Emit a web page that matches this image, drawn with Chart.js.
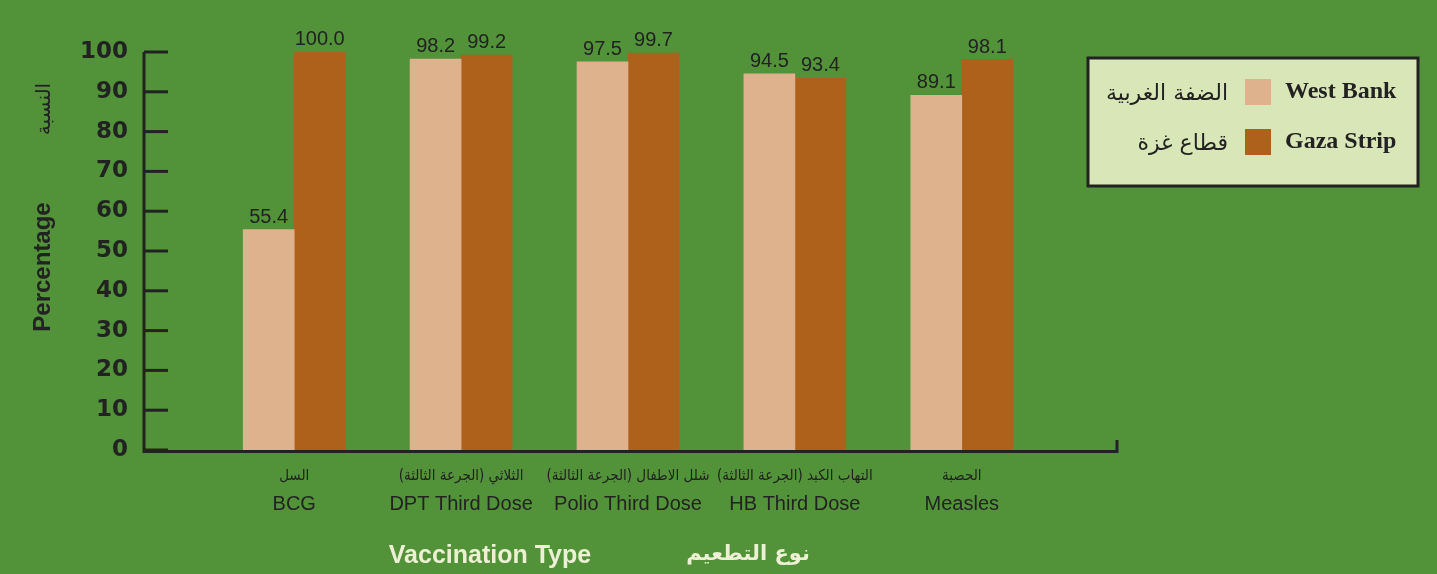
<!DOCTYPE html>
<html>
<head>
<meta charset="utf-8">
<script src="https://cdn.jsdelivr.net/npm/chart.js@4/dist/chart.umd.min.js"></script>
<style>
  html, body { margin: 0; padding: 0; background: #52933a; }
  #wrap { width: 1437px; height: 574px; position: relative; }
</style>
</head>
<body>
<div id="wrap"><canvas id="vacc"></canvas></div>
<script>
const categoriesEn = ['BCG', 'DPT Third Dose', 'Polio Third Dose', 'HB Third Dose', 'Measles'];
const categoriesAr = ['السل', 'الثلاثي (الجرعة الثالثة)', 'شلل الاطفال (الجرعة الثالثة)', 'التهاب الكبد (الجرعة الثالثة)', 'الحصبة'];
const westBank = [55.4, 98.2, 97.5, 94.5, 89.1];
const gazaStrip = [100.0, 99.2, 99.7, 93.4, 98.1];
const yTicks = [0, 10, 20, 30, 40, 50, 60, 70, 80, 90, 100];

const INK = '#222222';
const CREAM = '#eef0d6';

function points(values) {
    return values.map((v, i) => ({ x: i, y: v }));
}

// axes, value labels, category labels, titles and the boxed legend
const decor = {
    id: 'decor',
    afterDatasetsDraw(chart) {
        const ctx = chart.ctx;
        const area = chart.chartArea;
        const xs = chart.scales.x;
        const ys = chart.scales.y;
        ctx.save();

        // axis lines
        ctx.strokeStyle = INK;
        ctx.lineWidth = 3;
        ctx.lineCap = 'butt';
        ctx.beginPath();
        ctx.moveTo(area.left, ys.getPixelForValue(100));
        ctx.lineTo(area.left, area.bottom + 1.5);
        ctx.lineTo(area.right, area.bottom + 1.5);
        ctx.lineTo(area.right, area.bottom - 10);
        ctx.stroke();
        // inward tick marks
        yTicks.forEach(t => {
            const py = ys.getPixelForValue(t);
            ctx.beginPath();
            ctx.moveTo(area.left, py);
            ctx.lineTo(area.left + 24, py);
            ctx.stroke();
        });

        // value labels
        ctx.fillStyle = INK;
        ctx.font = '20px "Liberation Sans", Arial, sans-serif';
        ctx.textAlign = 'center';
        ctx.textBaseline = 'alphabetic';
        chart.data.datasets.forEach((ds, di) => {
            chart.getDatasetMeta(di).data.forEach((bar, i) => {
                ctx.fillText(ds.data[i].y.toFixed(1), bar.x, bar.y - 7);
            });
        });

        // category labels
        categoriesEn.forEach((lab, i) => {
            const px = xs.getPixelForValue(i);
            ctx.save();
            ctx.translate(px, area.bottom + 30);
            ctx.scale(0.9, 1);
            ctx.direction = 'rtl';
            ctx.font = '15px "DejaVu Sans", sans-serif';
            ctx.fillText(categoriesAr[i], 0, 0);
            ctx.restore();
            ctx.direction = 'ltr';
            ctx.font = '20px "Liberation Sans", Arial, sans-serif';
            ctx.fillText(lab, px, area.bottom + 60);
        });

        // x title
        ctx.fillStyle = CREAM;
        ctx.font = 'bold 25px "Liberation Sans", Arial, sans-serif';
        ctx.fillText('Vaccination Type', 490, 563);
        ctx.direction = 'rtl';
        ctx.font = 'bold 21px "DejaVu Sans", sans-serif';
        ctx.fillText('نوع التطعيم', 748, 560);
        ctx.direction = 'ltr';

        // y title
        ctx.fillStyle = INK;
        ctx.save();
        ctx.translate(50, 267);
        ctx.rotate(-Math.PI / 2);
        ctx.font = 'bold 24px "Liberation Sans", Arial, sans-serif';
        ctx.fillText('Percentage', 0, 0);
        ctx.restore();
        ctx.save();
        ctx.translate(50, 109);
        ctx.rotate(-Math.PI / 2);
        ctx.direction = 'rtl';
        ctx.font = '20px "DejaVu Sans", sans-serif';
        ctx.fillText('النسبة', 0, 0);
        ctx.restore();

        // legend box
        ctx.fillStyle = '#d9e6b7';
        ctx.fillRect(1088, 58, 330, 128);
        ctx.strokeStyle = INK;
        ctx.lineWidth = 3;
        ctx.strokeRect(1088, 58, 330, 128);
        const rows = [
            { en: 'West Bank', ar: 'الضفة الغربية', ds: 0, y: 92 },
            { en: 'Gaza Strip', ar: 'قطاع غزة', ds: 1, y: 142 }
        ];
        rows.forEach(r => {
            ctx.fillStyle = chart.data.datasets[r.ds].backgroundColor;
            ctx.fillRect(1245, r.y - 13, 26, 26);
            ctx.fillStyle = INK;
            ctx.textBaseline = 'middle';
            ctx.textAlign = 'left';
            ctx.direction = 'ltr';
            ctx.font = 'bold 24px "Liberation Serif", "Times New Roman", serif';
            ctx.fillText(r.en, 1285, r.y);
            ctx.textAlign = 'right';
            ctx.font = '22px "DejaVu Sans", sans-serif';
            ctx.fillText(r.ar, 1228, r.y + 2);
        });

        ctx.restore();
    }
};

new Chart(document.getElementById('vacc'), {
    type: 'bar',
    data: {
        datasets: [
            { label: 'West Bank', data: points(westBank), backgroundColor: '#dfb28e' },
            { label: 'Gaza Strip', data: points(gazaStrip), backgroundColor: '#ad611b' }
        ]
    },
    options: {
        responsive: true,
        maintainAspectRatio: false,
        animation: false,
        datasets: {
            bar: { barThickness: 51 }
        },
        layout: { padding: { top: 52, right: 320, left: 0, bottom: 0 } },
        plugins: {
            legend: { display: false },
            tooltip: { enabled: false }
        },
        scales: {
            x: {
                type: 'linear',
                offset: false,
                min: -0.9,
                max: 4.93,
                grid: { display: false, offset: false },
                border: { display: false },
                ticks: { display: false },
                afterFit(scale) { scale.height = 124; }
            },
            y: {
                min: 0,
                max: 100,
                grid: { display: false, drawTicks: false },
                border: { display: false },
                afterBuildTicks(scale) { scale.ticks = yTicks.map(v => ({ value: v })); },
                ticks: {
                    color: INK,
                    padding: 16,
                    font: { family: '"DejaVu Sans", sans-serif', weight: 'bold', size: 23 }
                },
                afterFit(scale) { scale.width = 144; }
            }
        }
    },
    plugins: [decor]
});
</script>
</body>
</html>
